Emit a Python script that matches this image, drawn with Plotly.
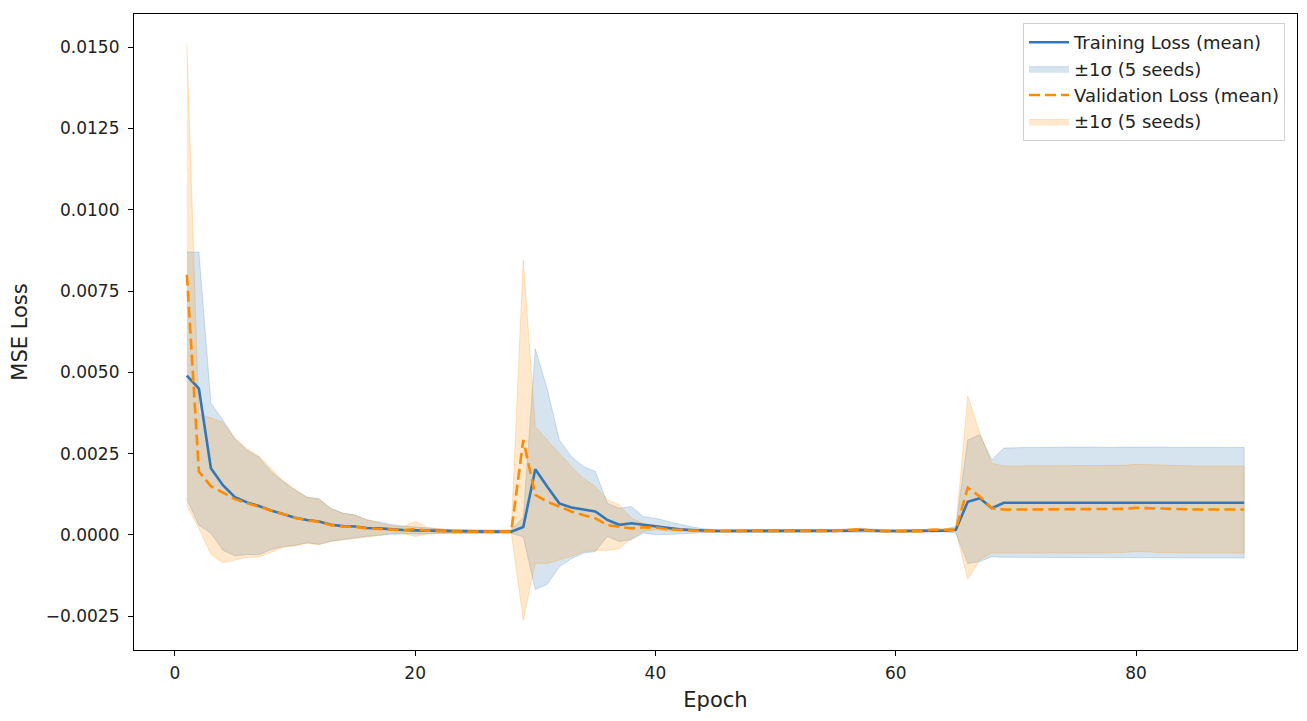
import plotly.graph_objects as go

epochs = list(range(1, 90))

train_mean = [
    0.0049, 0.0045, 0.00205, 0.00153, 0.00116, 0.00100, 0.00089, 0.00075, 0.00064, 0.00053,
    0.00046, 0.00041, 0.00031, 0.00027, 0.00026, 0.00021, 0.00020, 0.00017, 0.00015, 0.00014,
    0.00013, 0.00012, 0.00011, 0.00011, 0.00010, 0.00010, 0.00010, 0.00010, 0.00024, 0.00202,
    0.00148, 0.00097, 0.00084, 0.00077, 0.00072, 0.00046, 0.00031, 0.00036, 0.00031, 0.00026,
    0.00021, 0.00017, 0.00015, 0.00013, 0.00012, 0.00012, 0.00012, 0.00012, 0.00012, 0.00012,
    0.00012, 0.00012, 0.00012, 0.00012, 0.00012, 0.00013, 0.00015, 0.00013, 0.00012, 0.00012,
    0.00012, 0.00012, 0.00012, 0.00013, 0.00016, 0.00102, 0.00113, 0.00082, 0.00099, 0.00099,
    0.00099, 0.00099, 0.00100, 0.00100, 0.00100, 0.00100, 0.00099, 0.00099, 0.00100, 0.00100,
    0.00101, 0.00101, 0.00100, 0.00100, 0.00099, 0.00099, 0.00099, 0.00099, 0.00099,
]
train_std = [
    0.0038, 0.0042, 0.0020, 0.0020, 0.0018, 0.0016, 0.0015, 0.0012, 0.0010, 0.00085,
    0.0007, 0.0007, 0.0005, 0.0004, 0.00035, 0.00025, 0.0002, 0.00015, 0.00012, 0.0001,
    0.0001, 0.00008, 0.00005, 0.00005, 0.00005, 0.00005, 0.00005, 0.00005, 0.0003, 0.0037,
    0.0030, 0.00195, 0.00157, 0.00133, 0.00123, 0.00051, 0.00051, 0.00051, 0.00025, 0.00025,
    0.0002, 0.00016, 0.0001, 0.00006, 0.00004, 0.00004, 0.00004, 0.00004, 0.00004, 0.00004,
    0.00004, 0.00004, 0.00004, 0.00004, 0.00004, 0.00004, 0.00005, 0.00004, 0.00004, 0.00004,
    0.00004, 0.00004, 0.00004, 0.00004, 0.0001, 0.0019, 0.00195, 0.00149, 0.00168, 0.0017,
    0.0017, 0.0017, 0.0017, 0.0017, 0.0017, 0.0017, 0.0017, 0.0017, 0.0017, 0.0017,
    0.0017, 0.0017, 0.0017, 0.0017, 0.0017, 0.0017, 0.0017, 0.0017, 0.0017,
]
val_mean = [
    0.0080, 0.00195, 0.0015, 0.0013, 0.0011, 0.00098, 0.00087, 0.00075, 0.00064, 0.00053,
    0.00045, 0.0004, 0.0003, 0.00026, 0.00025, 0.0002, 0.00018, 0.00016, 0.00015, 0.00018,
    0.00013, 0.00012, 0.0001, 0.0001, 0.0001, 0.0001, 0.0001, 0.0001, 0.00292, 0.00123,
    0.00102, 0.00087, 0.00072, 0.00061, 0.00051, 0.0003, 0.00025, 0.0002, 0.00023, 0.00023,
    0.00017, 0.00015, 0.00013, 0.00012, 0.00012, 0.00012, 0.00012, 0.00012, 0.00012, 0.00012,
    0.00012, 0.00012, 0.00012, 0.00012, 0.00012, 0.00015, 0.00017, 0.00013, 0.00011, 0.00011,
    0.00011, 0.00011, 0.00016, 0.00015, 0.00016, 0.00145, 0.00118, 0.00082, 0.00078, 0.00078,
    0.00078, 0.00078, 0.00078, 0.00079, 0.00078, 0.00078, 0.00078, 0.00078, 0.00080, 0.00083,
    0.00082, 0.00079, 0.00078, 0.00078, 0.00078, 0.00078, 0.00078, 0.00078, 0.00078,
]
val_std = [
    0.0071, 0.00175, 0.0021, 0.00216, 0.00187, 0.00167, 0.00155, 0.00128, 0.00103, 0.00087,
    0.00071, 0.0007, 0.0005, 0.0004, 0.00036, 0.00026, 0.0002, 0.00012, 0.0001, 0.00023,
    0.0001, 0.00006, 0.00004, 0.00004, 0.00004, 0.00004, 0.00004, 0.00004, 0.00554, 0.0021,
    0.0019, 0.00164, 0.00138, 0.00113, 0.00098, 0.00078, 0.00067, 0.00031, 0.00013, 0.00007,
    0.00005, 0.00004, 0.00004, 0.00004, 0.00004, 0.00004, 0.00004, 0.00004, 0.00004, 0.00004,
    0.00004, 0.00004, 0.00004, 0.00004, 0.00004, 0.00004, 0.00004, 0.00004, 0.00004, 0.00004,
    0.00004, 0.00004, 0.00004, 0.00004, 0.00005, 0.00282, 0.00195, 0.00138, 0.00134, 0.00134,
    0.00134, 0.00134, 0.00134, 0.00134, 0.00134, 0.00134, 0.00134, 0.00134, 0.00134, 0.00134,
    0.00134, 0.00134, 0.00134, 0.00134, 0.00134, 0.00134, 0.00134, 0.00134, 0.00134,
]

x_tick_vals = [0, 20, 40, 60, 80]
y_tick_vals = [-0.0025, 0.0, 0.0025, 0.005, 0.0075, 0.01, 0.0125, 0.015]
y_tick_labels = ["\u22120.0025", "0.0000", "0.0025", "0.0050", "0.0075", "0.0100", "0.0125", "0.0150"]

blue = "#3477b5"
orange = "#ff8c00"


def band(mean, std):
    upper = [m + s for m, s in zip(mean, std)]
    lower = [m - s for m, s in zip(mean, std)]
    return epochs + epochs[::-1], upper + lower[::-1]


fig = go.Figure()

# bands underneath, lines on top; legend order set with legendrank
bx, by = band(train_mean, train_std)
fig.add_trace(go.Scatter(x=bx, y=by, mode="lines", fill="toself",
                         fillcolor="rgba(52,119,181,0.2)",
                         line=dict(color="rgba(52,119,181,0.22)", width=1),
                         name="\u00b11\u03c3 (5 seeds)", legendrank=2))
vx, vy = band(val_mean, val_std)
fig.add_trace(go.Scatter(x=vx, y=vy, mode="lines", fill="toself",
                         fillcolor="rgba(255,140,0,0.2)",
                         line=dict(color="rgba(255,140,0,0.22)", width=1),
                         name="\u00b11\u03c3 (5 seeds)", legendrank=4))

fig.add_trace(go.Scatter(x=epochs, y=train_mean, mode="lines",
                         line=dict(color=blue, width=2.6),
                         name="Training Loss (mean)", legendrank=1))
fig.add_trace(go.Scatter(x=epochs, y=val_mean, mode="lines",
                         line=dict(color=orange, width=2.6, dash="11px,5px"),
                         name="Validation Loss (mean)", legendrank=3))

# the page body has an 8px margin, so the figure is sized to fit inside it
fig.update_layout(
    width=1291,
    height=705,
    autosize=False,
    margin=dict(l=126, r=2, t=6, b=63),
    plot_bgcolor="white",
    paper_bgcolor="white",
    font=dict(family="DejaVu Sans", size=17, color="#222"),
    legend=dict(
        x=0.9897, y=0.9858, xanchor="right", yanchor="top",
        bgcolor="rgba(255,255,255,0.8)",
        bordercolor="#d0d0d0", borderwidth=1,
        font=dict(size=18),
        itemwidth=40,
        tracegroupgap=0,
    ),
)

fig.update_xaxes(
    range=[-3.4, 93.4],
    tickvals=x_tick_vals,
    ticks="outside", ticklen=5, tickcolor="black",
    showline=True, linecolor="black", linewidth=1.2, mirror=True,
    showgrid=False, zeroline=False, automargin=False,
    ticklabelstandoff=2,
    title=dict(text="Epoch", font=dict(size=21), standoff=10),
)
fig.update_yaxes(
    range=[-0.00354, 0.01602],
    tickvals=y_tick_vals,
    ticktext=y_tick_labels,
    ticks="outside", ticklen=5, tickcolor="black",
    showline=True, linecolor="black", linewidth=1.2, mirror=True,
    showgrid=False, zeroline=False, automargin=False,
    ticklabelstandoff=5,
    title=dict(text="MSE Loss", font=dict(size=21), standoff=12),
)

fig.write_html("out.html")
